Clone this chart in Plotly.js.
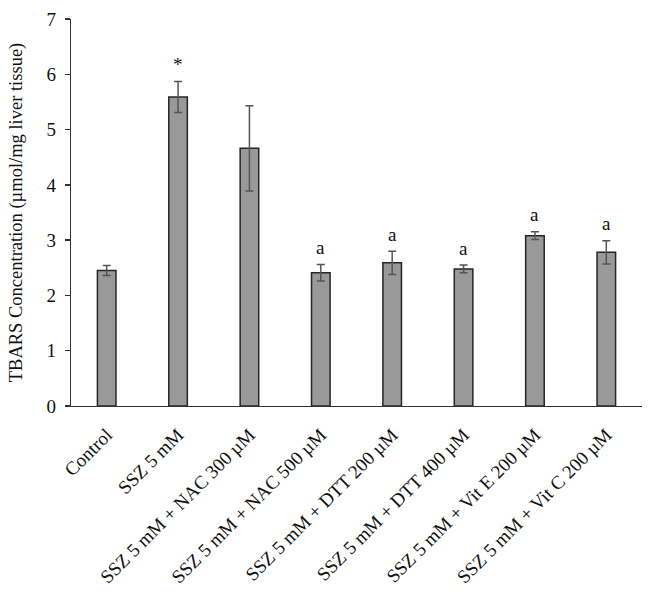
<!DOCTYPE html>
<html>
<head>
<meta charset="utf-8">
<script src="https://cdn.plot.ly/plotly-3.0.1.min.js"></script>
<style>html,body{margin:0;padding:0;background:#fff;}#chart{width:654px;height:593px;}</style>
</head>
<body>
<div id="chart"></div>
<script>
const categories = ["Control", "SSZ 5 mM", "SSZ 5 mM + NAC 300 µM", "SSZ 5 mM + NAC 500 µM",
  "SSZ 5 mM + DTT 200 µM", "SSZ 5 mM + DTT 400 µM", "SSZ 5 mM + Vit E 200 µM", "SSZ 5 mM + Vit C 200 µM"];
const means = [2.45, 5.59, 4.66, 2.41, 2.59, 2.48, 3.08, 2.78];
const errors = [0.09, 0.28, 0.77, 0.15, 0.21, 0.07, 0.07, 0.21];
const marks = ["", "*", "", "a", "a", "a", "a", "a"];
const yTicks = [0, 1, 2, 3, 4, 5, 6, 7];

const font = "Liberation Serif, Times New Roman, serif";

const trace = {
  type: "bar",
  x: categories,
  y: means,
  width: 0.26,
  marker: {color: "#999999", line: {color: "#262626", width: 1.5}},
  error_y: {type: "data", array: errors, visible: true, color: "#555555", thickness: 1.5, width: 4}
};

const annotations = [];
categories.forEach((c, i) => {
  if (marks[i]) {
    annotations.push({
      x: c, y: means[i] + errors[i], xref: "x", yref: "y",
      text: marks[i], showarrow: false, yanchor: "middle", yshift: 17,
      font: {family: font, size: 19, color: "#111"}
    });
  }
});

const layout = {
  width: 654, height: 593,
  margin: {l: 71, r: 12, t: 19, b: 187},
  paper_bgcolor: "#fff", plot_bgcolor: "#fff",
  showlegend: false,
  font: {family: font, size: 19, color: "#111"},
  xaxis: {
    type: "category", range: [-0.5, 7.5],
    showline: true, linecolor: "#333", linewidth: 1.3,
    ticks: "", tickangle: -45, showgrid: false, zeroline: false,
    ticklabelstandoff: 9,
    tickfont: {family: font, size: 19, color: "#111"}
  },
  yaxis: {
    range: [0, 7], tickvals: yTicks, ticktext: yTicks.map(String),
    showline: true, linecolor: "#333", linewidth: 1.3,
    ticks: "outside", ticklen: 5, tickcolor: "#333", tickwidth: 1.3,
    showgrid: false, zeroline: false,
    ticklabelstandoff: 5,
    tickfont: {family: font, size: 19, color: "#111"},
    title: {text: "TBARS Concentration (µmol/mg liver tissue)", font: {family: font, size: 18.5, color: "#111"}, standoff: 19}
  },
  annotations: annotations
};

Plotly.newPlot("chart", [trace], layout, {displayModeBar: false, staticPlot: true});
</script>
</body>
</html>
